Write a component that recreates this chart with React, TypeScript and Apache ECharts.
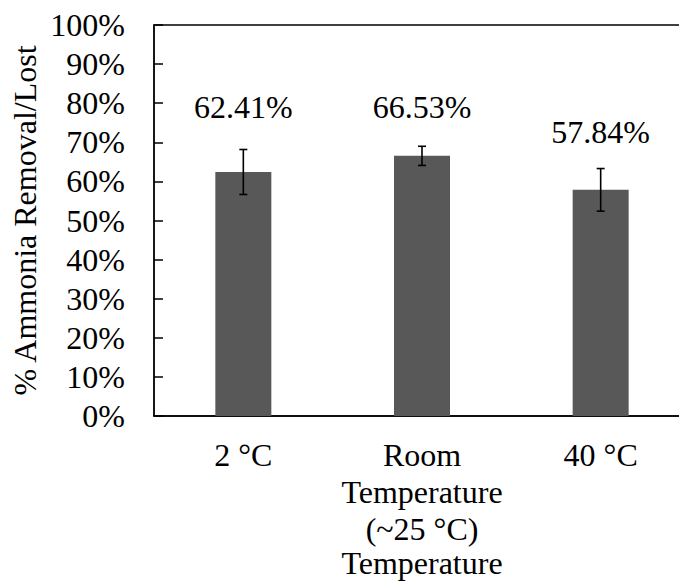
import React, { useEffect, useRef } from "react";
import * as echarts from "echarts";

// Ammonia removal/loss at three storage temperatures
const categories = ["2 °C", "Room\nTemperature\n(~25 °C)", "40 °C"];
const removalPct = [62.41, 66.53, 57.84];
const errorPct = [5.75, 2.45, 5.45];
const labelDistance = [49, 33, 42];
const yTicks = { min: 0, max: 100, step: 10 };

const FONT = "Liberation Serif";
const BLACK = "#000000";

export default function App() {
  const ref = useRef<HTMLDivElement>(null);

  useEffect(() => {
    if (!ref.current) return;
    const chart = echarts.init(ref.current, null, { renderer: "svg" });

    const barData = removalPct.map((v, i) => ({
      value: v,
      label: { distance: labelDistance[i] },
    }));

    const errData = removalPct.map((v, i) => [i, v, errorPct[i]]);

    chart.setOption({
      animation: false,
      backgroundColor: "#ffffff",
      textStyle: { fontFamily: FONT },
      grid: {
        left: 154,
        top: 25,
        width: 536,
        height: 391,
        outerBoundsMode: "none",
        containLabel: false,
        show: true,
        borderColor: BLACK,
        borderWidth: 1.3,
        backgroundColor: "transparent",
      },
      xAxis: {
        type: "category",
        data: categories,
        name: "Temperature",
        nameLocation: "middle",
        nameGap: 131,
        nameMoveOverlap: false,
        nameTextStyle: { fontFamily: FONT, fontSize: 32, color: BLACK },
        axisLine: { lineStyle: { color: BLACK, width: 1.5 } },
        axisTick: {
          inside: true,
          length: 10,
          alignWithLabel: false,
          lineStyle: { color: BLACK, width: 1.5 },
        },
        axisLabel: {
          interval: 0,
          fontFamily: FONT,
          fontSize: 32,
          lineHeight: 37,
          color: BLACK,
          margin: 20,
        },
        splitLine: { show: false },
      },
      yAxis: {
        type: "value",
        min: yTicks.min,
        max: yTicks.max,
        interval: yTicks.step,
        name: "% Ammonia Removal/Lost",
        nameLocation: "middle",
        nameGap: 113,
        nameMoveOverlap: false,
        nameTextStyle: { fontFamily: FONT, fontSize: 32, color: BLACK },
        axisLine: { show: true, lineStyle: { color: BLACK, width: 1.5 } },
        axisTick: {
          show: true,
          inside: true,
          length: 9,
          lineStyle: { color: BLACK, width: 1.5 },
        },
        axisLabel: {
          formatter: "{value}%",
          fontFamily: FONT,
          fontSize: 32,
          color: BLACK,
          margin: 29,
        },
        splitLine: { show: false },
      },
      series: [
        {
          type: "bar",
          data: barData,
          barWidth: 56,
          itemStyle: { color: "#585858" },
          label: {
            show: true,
            position: "top",
            fontFamily: FONT,
            fontSize: 32,
            color: BLACK,
            formatter: (p: any) => `${Number(p.value).toFixed(2)}%`,
          },
          z: 2,
        },
        {
          type: "custom",
          data: errData,
          encode: { x: 0, y: 1 },
          z: 5,
          renderItem: (params: any, api: any) => {
            const i = api.value(0);
            const mean = api.value(1);
            const err = api.value(2);
            const hi = api.coord([i, mean + err]);
            const lo = api.coord([i, mean - err]);
            const cap = 4;
            const style = { stroke: BLACK, lineWidth: 1.6 };
            return {
              type: "group",
              children: [
                { type: "line", shape: { x1: hi[0], y1: hi[1], x2: lo[0], y2: lo[1] }, style },
                { type: "line", shape: { x1: hi[0] - cap, y1: hi[1], x2: hi[0] + cap, y2: hi[1] }, style },
                { type: "line", shape: { x1: lo[0] - cap, y1: lo[1], x2: lo[0] + cap, y2: lo[1] }, style },
              ],
            };
          },
        },
      ],
    });

    return () => chart.dispose();
  }, []);

  return (
    <div
      ref={ref}
      style={{ position: "fixed", left: 0, top: 0, width: 679, height: 581 }}
    />
  );
}
